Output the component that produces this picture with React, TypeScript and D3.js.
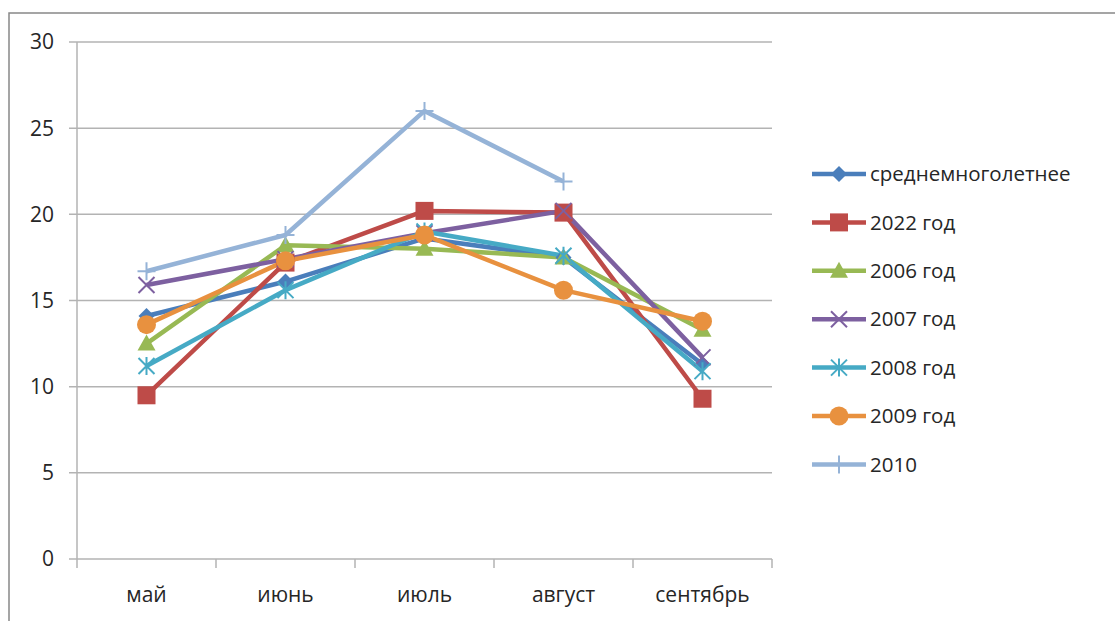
import React from "react";
import * as d3 from "d3";

const categories = ["май", "июнь", "июль", "август", "сентябрь"];
const yTicks = [0, 5, 10, 15, 20, 25, 30];

const seriesNames = ["среднемноголетнее", "2022 год", "2006 год", "2007 год", "2008 год", "2009 год", "2010"];
const avgValues = [14.1, 16.1, 18.6, 17.5, 11.3];
const v2022 = [9.5, 17.2, 20.2, 20.1, 9.3];
const v2006 = [12.5, 18.2, 18.0, 17.5, 13.3];
const v2007 = [15.9, 17.4, 18.9, 20.2, 11.7];
const v2008 = [11.2, 15.6, 19.0, 17.6, 10.9];
const v2009 = [13.6, 17.3, 18.8, 15.6, 13.8];
const v2010 = [16.7, 18.8, 26.0, 21.9, null];

const colors = ["#4A7EBB", "#BE4B48", "#98B954", "#7D60A0", "#46AAC5", "#E8913F", "#95B3D7"];
const markers = ["diamond", "square", "triangle", "x", "asterisk", "circle", "plus"];
const allValues = [avgValues, v2022, v2006, v2007, v2008, v2009, v2010];

const W = 1115, H = 621;
const left = 77, right = 772, top = 42, bottom = 559;

function Marker({ type, x, y, color }: { type: string; x: number; y: number; color: string }) {
  switch (type) {
    case "diamond":
      return <path d={`M${x},${y - 8}L${x + 8},${y}L${x},${y + 8}L${x - 8},${y}Z`} fill={color} />;
    case "square":
      return <rect x={x - 9} y={y - 9} width={18} height={18} fill={color} />;
    case "triangle":
      return <path d={`M${x},${y - 9}L${x + 9},${y + 7}L${x - 9},${y + 7}Z`} fill={color} />;
    case "x":
      return (
        <path d={`M${x - 8},${y - 8}L${x + 8},${y + 8}M${x - 8},${y + 8}L${x + 8},${y - 8}`} stroke={color} strokeWidth={2} />
      );
    case "asterisk":
      return (
        <path
          d={`M${x - 8},${y - 8}L${x + 8},${y + 8}M${x - 8},${y + 8}L${x + 8},${y - 8}M${x},${y - 9}L${x},${y + 9}`}
          stroke={color}
          strokeWidth={2}
        />
      );
    case "circle":
      return <circle cx={x} cy={y} r={9.5} fill={color} />;
    case "plus":
      return <path d={`M${x - 9},${y}L${x + 9},${y}M${x},${y - 9}L${x},${y + 9}`} stroke={color} strokeWidth={2} />;
    default:
      return null;
  }
}

export default function App() {
  const x = d3.scaleBand<string>().domain(categories).range([left, right]);
  const y = d3.scaleLinear().domain([0, 30]).range([bottom, top]);
  const cx = (c: string) => (x(c) as number) + x.bandwidth() / 2;
  const boundaries = d3.range(categories.length + 1).map((i) => left + i * x.bandwidth());

  const line = d3
    .line<number | null>()
    .defined((d) => d !== null)
    .x((_, i) => cx(categories[i]))
    .y((d) => y(d as number));

  const font = "'Open Sans', 'Noto Sans', sans-serif";
  const legendY0 = 174;
  const legendStep = 48.4;

  return (
    <svg width={W} height={H} style={{ position: "absolute", left: 0, top: 0, background: "#fff" }}>
      <rect x={9} y={13} width={1200} height={700} fill="#fff" stroke="#888" strokeWidth={1.5} />
      {yTicks.map((t) => (
        <g key={t}>
          <line x1={left - 8} x2={right} y1={y(t)} y2={y(t)} stroke="#b3b3b3" strokeWidth={1.5} />
          <text x={54} y={y(t)} dy="0.35em" textAnchor="end" fontFamily={font} fontSize={21} fill="#262626">
            {t}
          </text>
        </g>
      ))}
      <line x1={left} x2={left} y1={top} y2={bottom + 9} stroke="#b3b3b3" strokeWidth={1.5} />
      {boundaries.slice(1).map((b, i) => (
        <line key={i} x1={b} x2={b} y1={bottom} y2={bottom + 9} stroke="#b3b3b3" strokeWidth={1.5} />
      ))}
      {categories.map((c) => (
        <text key={c} x={cx(c)} y={595} dy="0.35em" textAnchor="middle" fontFamily={font} fontSize={21} fill="#262626">
          {c}
        </text>
      ))}
      {allValues.map((vals, si) => (
        <path key={si} d={line(vals) || ""} fill="none" stroke={colors[si]} strokeWidth={4.5} strokeLinejoin="round" />
      ))}
      {allValues.map((vals, si) =>
        vals.map((v, i) =>
          v === null ? null : <Marker key={`${si}-${i}`} type={markers[si]} x={cx(categories[i])} y={y(v)} color={colors[si]} />
        )
      )}
      {seriesNames.map((name, si) => {
        const ly = legendY0 + si * legendStep;
        return (
          <g key={name}>
            <line x1={812} x2={866} y1={ly} y2={ly} stroke={colors[si]} strokeWidth={4.5} />
            <Marker type={markers[si]} x={839} y={ly} color={colors[si]} />
            <text x={870} y={ly} dy="0.35em" fontFamily={font} fontSize={20.5} fill="#262626">
              {name}
            </text>
          </g>
        );
      })}
    </svg>
  );
}
